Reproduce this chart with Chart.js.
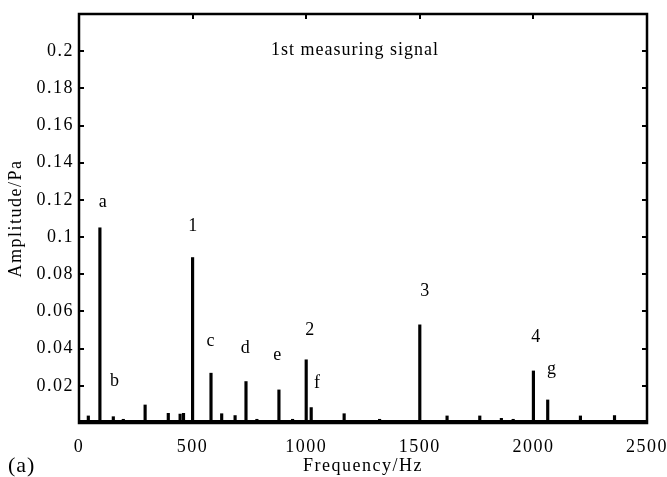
<!DOCTYPE html>
<html>
<head>
<meta charset="utf-8">
<script src="https://cdn.jsdelivr.net/npm/chart.js@4/dist/chart.umd.min.js"></script>
<style>
  html, body { margin: 0; padding: 0; background: #fff; }
  #wrap { width: 667px; height: 477px; }
</style>
</head>
<body>
<div id="wrap"><canvas id="spectrum"></canvas></div>
<script>
// spectrum lines
const freqs = [41, 92, 151, 195, 291, 342, 393, 445, 460, 500, 540, 581, 628, 687, 735, 783, 880, 940, 956, 1000, 1022, 1167, 1323, 1466, 1500, 1620, 1764, 1859, 1911, 2000, 2063, 2207, 2248, 2357];
const amps = [0.0038, 0.105, 0.0034, 0.002, 0.0097, 0.0012, 0.0052, 0.0048, 0.0052, 0.089, 0.0012, 0.0268, 0.005, 0.004, 0.0223, 0.002, 0.0178, 0.002, 0.0012, 0.034, 0.0083, 0.005, 0.002, 0.0012, 0.0528, 0.0038, 0.0038, 0.0025, 0.002, 0.028, 0.0124, 0.0038, 0.0012, 0.004];

// peak annotations
const peakNames = ["a", "b", "1", "c", "d", "e", "2", "f", "3", "4", "g"];
const peakX = [107, 158, 503, 581, 734, 875, 1018, 1050, 1524, 2013, 2082];
const peakY = [0.119, 0.0223, 0.106, 0.0438, 0.040, 0.0367, 0.050, 0.0214, 0.0708, 0.046, 0.029];

const xTicks = [0, 500, 1000, 1500, 2000, 2500];
const yTicks = [0.02, 0.04, 0.06, 0.08, 0.1, 0.12, 0.14, 0.16, 0.18, 0.2];

const plotTitle = "1st measuring signal";
const panelTag = "(a)";

const serif = "'Liberation Serif', 'Times New Roman', serif";

const decorations = {
  id: "decorations",
  beforeDraw(chart) {
    chart.ctx.letterSpacing = "1.5px";
  },
  afterDraw(chart) {
    const ctx = chart.ctx;
    const a = chart.chartArea;
    const xs = chart.scales.x, ys = chart.scales.y;
    ctx.save();
    ctx.strokeStyle = "#000";
    // inward ticks
    ctx.lineWidth = 2;
    ctx.beginPath();
    yTicks.forEach((v) => {
      const py = Math.round(ys.getPixelForValue(v));
      ctx.moveTo(a.left, py); ctx.lineTo(a.left + 5, py);
      ctx.moveTo(a.right, py); ctx.lineTo(a.right - 5, py);
    });
    xTicks.slice(1, -1).forEach((v) => {
      const px = Math.round(xs.getPixelForValue(v));
      ctx.moveTo(px, a.top); ctx.lineTo(px, a.top + 5);
      ctx.moveTo(px, a.bottom); ctx.lineTo(px, a.bottom - 5);
    });
    ctx.stroke();
    // frame
    ctx.lineWidth = 2.5;
    ctx.strokeRect(a.left, a.top, a.right - a.left, a.bottom - a.top);
    // bottom noise floor
    ctx.lineWidth = 3;
    ctx.beginPath();
    ctx.moveTo(a.left, a.bottom - 1.5); ctx.lineTo(a.right, a.bottom - 1.5);
    ctx.stroke();

    ctx.fillStyle = "#000";
    ctx.letterSpacing = "1px";
    ctx.font = "18px " + serif;
    ctx.textAlign = "center";
    ctx.textBaseline = "middle";
    ctx.fillText(plotTitle, (a.left + a.right) / 2 - 8, a.top + 36);
    peakNames.forEach((n, i) => {
      ctx.fillText(n, xs.getPixelForValue(peakX[i]), ys.getPixelForValue(peakY[i]));
    });
    ctx.font = "22px " + serif;
    ctx.textAlign = "left";
    ctx.fillText(panelTag, 8, 466);
    ctx.restore();
  },
};

new Chart(document.getElementById("spectrum"), {
  type: "bar",
  data: {
    datasets: [
      {
        data: freqs.map((f, i) => ({ x: f, y: amps[i] })),
        backgroundColor: "#000",
        borderWidth: 0,
        barThickness: 2.5,
        grouped: false,
      },
    ],
  },
  options: {
    responsive: true,
    maintainAspectRatio: false,
    animation: false,
    layout: { padding: { left: 0, top: 14, right: 20, bottom: 0 } },
    plugins: { legend: { display: false }, tooltip: { enabled: false } },
    scales: {
      x: {
        type: "linear",
        offset: false,
        min: 0,
        max: 2500,
        afterBuildTicks: (s) => { s.ticks = xTicks.map((v) => ({ value: v })); },
        afterFit: (s) => { s.height = 54; s.paddingLeft = 0; s.paddingRight = 0; },
        grid: { display: false, drawTicks: false, offset: false },
        border: { display: false },
        ticks: { color: "#000", padding: 13, maxRotation: 0, font: { family: serif, size: 18 }, callback: (v) => String(v) },
        title: { display: true, text: "Frequency/Hz", color: "#000", padding: { top: 0, bottom: 0 }, font: { family: serif, size: 18 } },
      },
      y: {
        min: 0,
        max: 0.22,
        afterBuildTicks: (s) => { s.ticks = yTicks.map((v) => ({ value: v })); },
        afterFit: (s) => { s.width = 79; s.paddingTop = 0; s.paddingBottom = 0; },
        grid: { display: false, drawTicks: false },
        border: { display: false },
        ticks: {
          color: "#000",
          padding: 5,
          font: { family: serif, size: 18 },
          callback: (v) => String(Number(v.toFixed(2))),
        },
        title: { display: true, text: "Amplitude/Pa", color: "#000", padding: { top: 5, bottom: 0 }, font: { family: serif, size: 18 } },
      },
    },
  },
  plugins: [decorations],
});
</script>
</body>
</html>
